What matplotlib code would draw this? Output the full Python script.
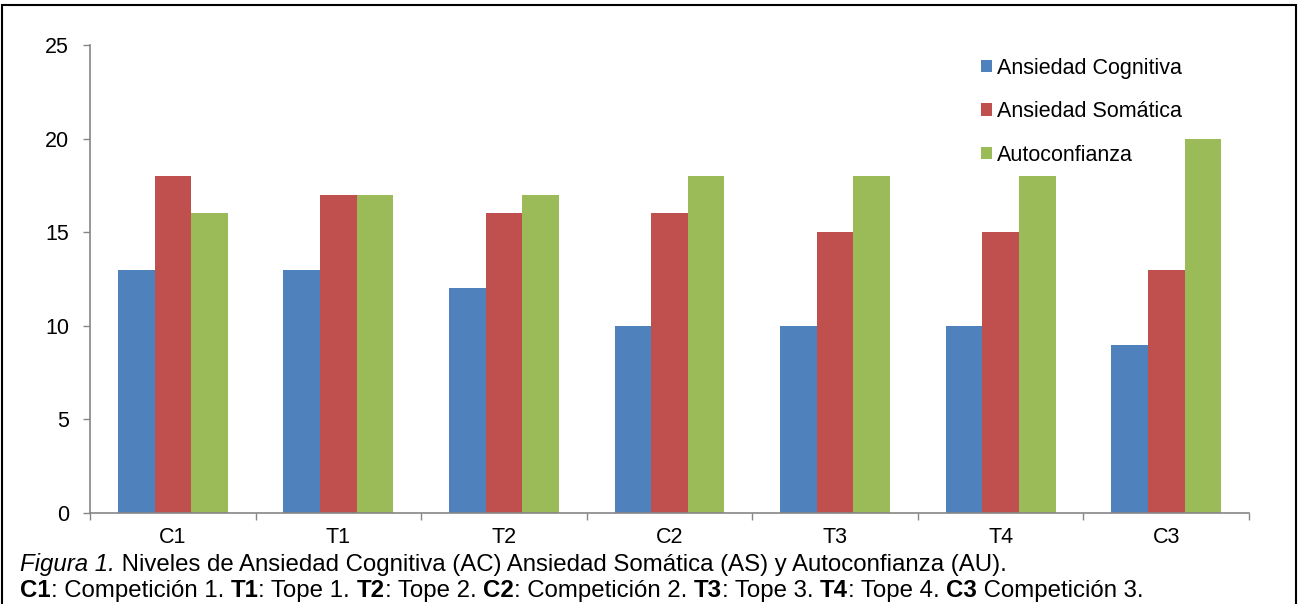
import numpy as np
import matplotlib.pyplot as plt
from matplotlib.patches import Rectangle

plt.rcParams.update({
    "font.family": ["Liberation Sans", "DejaVu Sans"],
    "font.size": 15.5,
})

# Data
categories = ["C1", "T1", "T2", "C2", "T3", "T4", "C3"]
ansiedad_cognitiva = [13, 13, 12, 10, 10, 10, 9]
ansiedad_somatica = [18, 17, 16, 16, 15, 15, 13]
autoconfianza = [16, 17, 17, 18, 18, 18, 20]
series_names = ["Ansiedad Cognitiva", "Ansiedad Somática", "Autoconfianza"]
colors = ["#4F81BD", "#C0504D", "#9BBB59"]

fig = plt.figure(figsize=(12.99, 6.04), dpi=100)
ax = fig.add_axes([0.0693, 0.1507, 0.8922, 0.7748])

x = np.arange(len(categories))
w = 0.221
for i, (vals, name, c) in enumerate(zip([ansiedad_cognitiva, ansiedad_somatica, autoconfianza], series_names, colors)):
    ax.bar(x + (i - 1) * w, vals, width=w, color=c, label=name, edgecolor="none")

ax.set_xlim(-0.5, len(categories) - 0.5)
ax.set_ylim(0, 25)
ax.set_yticks(range(0, 26, 5))
ax.set_xticks(x)
ax.set_xticklabels(categories)
ax.set_xticks(np.arange(-0.5, len(categories)), minor=True)
ax.tick_params(axis="x", which="major", length=0, pad=10)
ax.tick_params(axis="x", which="minor", length=5, color="#868686", width=1)
ax.tick_params(axis="y", length=5, color="#868686", width=1, pad=10)
for s in ["top", "right"]:
    ax.spines[s].set_visible(False)
for s in ["left", "bottom"]:
    ax.spines[s].set_color("#868686")
    ax.spines[s].set_linewidth(1.2)

leg = fig.legend(loc="upper left", bbox_to_anchor=(0.7486, 0.919), frameon=False,
                 borderaxespad=0, handlelength=0.53, handleheight=0.53,
                 handletextpad=0.2, labelspacing=1.05, fontsize=15.5)

# border
fig.patches.append(Rectangle((0.0015, -0.01), 0.9965, 1.0017, transform=fig.transFigure,
                             fill=False, edgecolor="black", linewidth=1.5))

# caption with mixed styles
fig.canvas.draw()
renderer = fig.canvas.get_renderer()


def draw_pieces(pieces, x0, y0):
    xpos = x0
    for txt, style, weight in pieces:
        t = fig.text(xpos, y0, txt, fontsize=17.3, style=style,
                     weight=weight, va="baseline", ha="left")
        bb = t.get_window_extent(renderer=renderer)
        xpos += bb.width / fig.bbox.width


line1 = [("Figura 1.", "italic", "normal"),
         (" Niveles de Ansiedad Cognitiva (AC) Ansiedad Somática (AS) y Autoconfianza (AU).", "normal", "normal")]
line2 = [("C1", "normal", "bold"), (": Competición 1. ", "normal", "normal"),
         ("T1", "normal", "bold"), (": Tope 1. ", "normal", "normal"),
         ("T2", "normal", "bold"), (": Tope 2. ", "normal", "normal"),
         ("C2", "normal", "bold"), (": Competición 2. ", "normal", "normal"),
         ("T3", "normal", "bold"), (": Tope 3. ", "normal", "normal"),
         ("T4", "normal", "bold"), (": Tope 4. ", "normal", "normal"),
         ("C3", "normal", "bold"), (" Competición 3.", "normal", "normal")]
draw_pieces(line1, 20 / 1299, 1 - 571 / 604)
draw_pieces(line2, 20 / 1299, 1 - 597 / 604)

fig.savefig("out.png", dpi=100)
